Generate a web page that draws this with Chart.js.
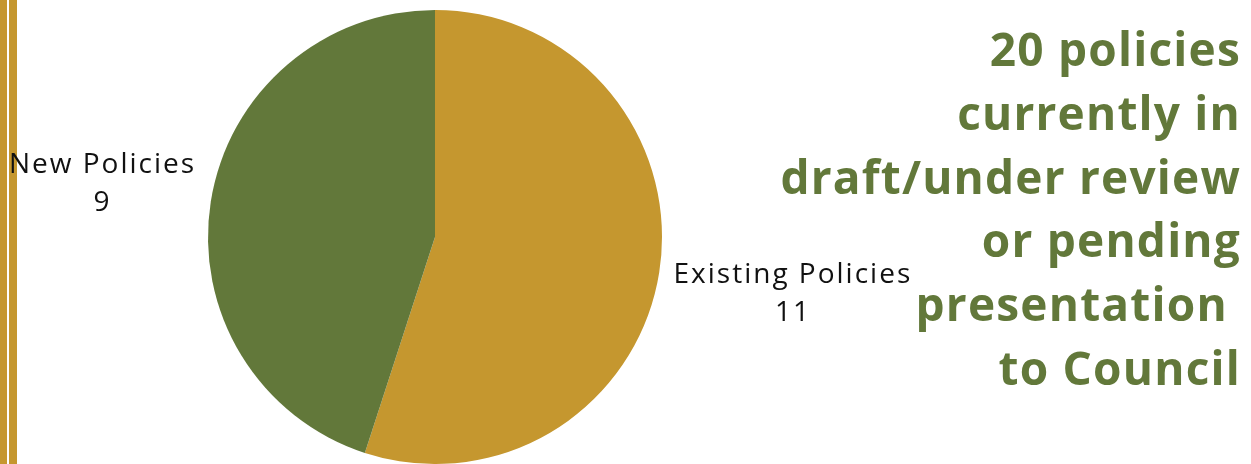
<!DOCTYPE html>
<html>
<head>
<meta charset="utf-8">
<script src="https://cdn.jsdelivr.net/npm/chart.js@4/dist/chart.umd.min.js"></script>
<style>
    html, body { margin: 0; padding: 0; background: #ffffff; }
    #wrap { position: relative; width: 1251px; height: 464px; overflow: hidden; }
    #policy-chart { position: absolute; left: 0; top: 0; }
    .bar { position: absolute; top: 0; height: 464px; background: #c5972f; }
    #headline {
        position: absolute; right: 10px; top: 17px;
        text-align: right; color: #62783a;
        font-family: "Open Sans", sans-serif; font-weight: 700;
        font-size: 46px; line-height: 63.8px; letter-spacing: 1.2px; white-space: pre;
    }
</style>
</head>
<body>
<div id="wrap">
    <div class="bar" style="left:0;width:7px"></div>
    <div class="bar" style="left:9px;width:8px"></div>
    <canvas id="policy-chart" width="1251" height="464"></canvas>
    <div id="headline">20 policies
currently in
draft/under review
or pending
presentation 
to Council</div>
</div>
<script>
let categories = ["Existing Policies", "New Policies"]
let policy_counts = [11, 9]
let slice_colors = ["#c5972f", "#62783a"]

// Draws "name / value" labels outside each slice, along its middle angle
let outside_labels = {
    id: "outside_labels",
    afterDatasetsDraw(chart) {
        let ctx = chart.ctx
        let meta = chart.getDatasetMeta(0)
        ctx.save()
        ctx.font = "28px 'Open Sans', sans-serif"
        ctx.letterSpacing = "2px"
        ctx.fillStyle = "#111111"
        ctx.textAlign = "center"
        ctx.textBaseline = "middle"
        let line_h = 38
        for (let i = 0; i < meta.data.length; i++) {
            let arc = meta.data[i]
            let props = arc.getProps(["x", "y", "startAngle", "endAngle", "outerRadius"], true)
            let mid = (props.startAngle + props.endAngle) / 2
            let lines = [categories[i], String(chart.data.datasets[0].data[i])]
            let width = Math.max(...lines.map(l => ctx.measureText(l).width))
            let dist = props.outerRadius + 16 + width / 2
            let cx = props.x + Math.cos(mid) * dist
            let cy = props.y + Math.sin(mid) * dist
            for (let j = 0; j < lines.length; j++) {
                ctx.fillText(lines[j], cx, cy + (j - (lines.length - 1) / 2) * line_h)
            }
        }
        ctx.restore()
    }
}

new Chart("policy-chart", {
    type: "pie",
    data: {
        labels: categories,
        datasets: [{
            data: policy_counts,
            backgroundColor: slice_colors,
            borderWidth: 0
        }]
    },
    options: {
        responsive: false,
        animation: false,
        layout: { padding: { left: 208, right: 589, top: 10, bottom: 0 } },
        plugins: {
            legend: { display: false },
            tooltip: { enabled: false }
        }
    },
    plugins: [outside_labels]
})
</script>
</body>
</html>
